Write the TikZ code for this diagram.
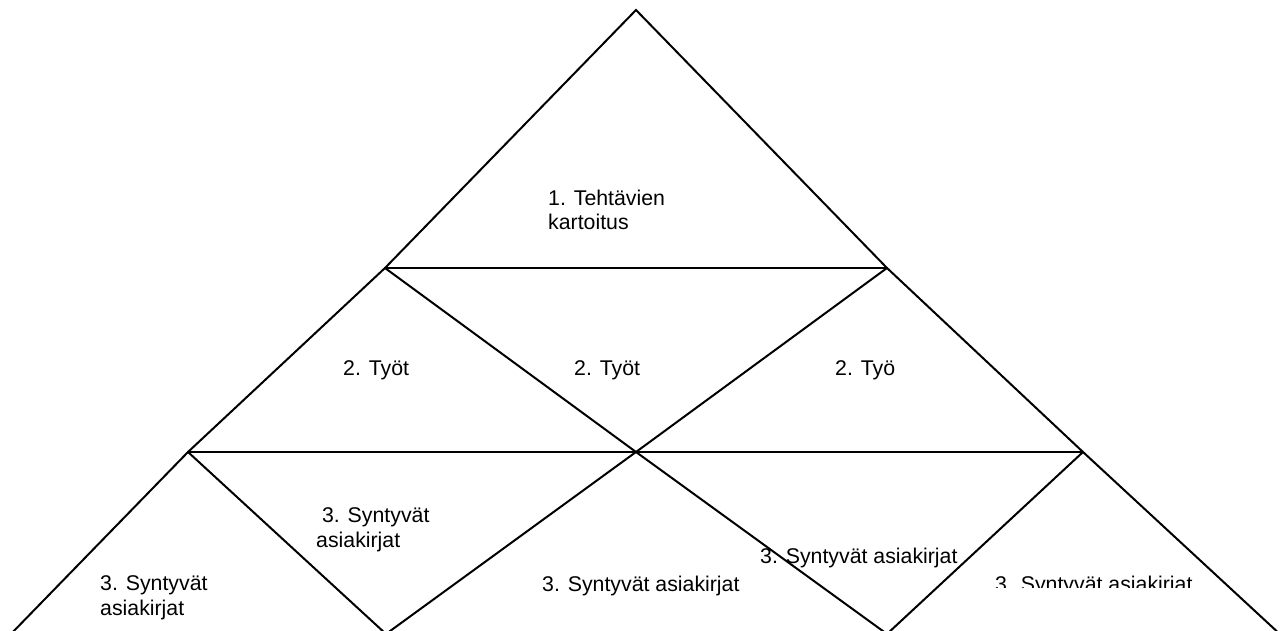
\documentclass[tikz,border=0pt]{standalone}
\usepackage{fontspec}
\setmainfont{Liberation Sans}
\begin{document}
\begin{tikzpicture}[x=1pt,y=-1pt,
  edge/.style={line width=2pt,line cap=round,line join=miter},
  lbl/.style={inner sep=0pt,anchor=base west,align=left,
    font=\fontsize{21.3}{24.5}\selectfont}]
\useasboundingbox (0,0) rectangle (1283,631);
\fill[white] (0,0) rectangle (1283,631);
% grid points of the pyramid
\coordinate (apex) at (636,10);
\coordinate (l1) at (385,268);
\coordinate (r1) at (887,268);
\coordinate (l2) at (188,452);
\coordinate (c)  at (636,452);
\coordinate (r2) at (1083,452);
\coordinate (v1) at (386,634);
\coordinate (v2) at (887,634);
\coordinate (bl) at (8,637);
\coordinate (br) at (1283,637);
\begin{scope}
\clip (0,0) rectangle (1283,631);
% outline
\draw[edge] (bl) -- (l2) -- (l1) -- (apex) -- (r1) -- (r2) -- (br);
% horizontal tiers
\draw[edge] (l1) -- (r1);
\draw[edge] (l2) -- (r2);
% inner diagonals
\draw[edge] (l1) -- (c) -- (v2);
\draw[edge] (r1) -- (c) -- (v1);
\draw[edge] (l2) -- (v1);
\draw[edge] (r2) -- (v2);
\end{scope}
% labels (multi-line labels sit on the baseline of their last line)
\node[lbl] (t1) at (548,230) {1. Tehtävien\\kartoitus};
\node[lbl] (t2a) at (343,375) {2. Työt};
\node[lbl] (t2b) at (574,375) {2. Työt};
\node[lbl] (t2c) at (835,375) {2. Työ};
\node[lbl] (t3a) at (316,547) {\hspace*{5.9pt}3. Syntyvät\\asiakirjat};
\node[lbl] (t3b) at (760,563) {3. Syntyvät asiakirjat};
\node[lbl] (t3c) at (100,615) {3. Syntyvät\\asiakirjat};
\node[lbl] (t3d) at (542,591) {3. Syntyvät asiakirjat};
\begin{scope}
\clip (900,560) rectangle (1240,587);
\node[lbl] (t3e) at (995,591) {3. Syntyvät asiakirjat};
\end{scope}
\end{tikzpicture}
\end{document}
